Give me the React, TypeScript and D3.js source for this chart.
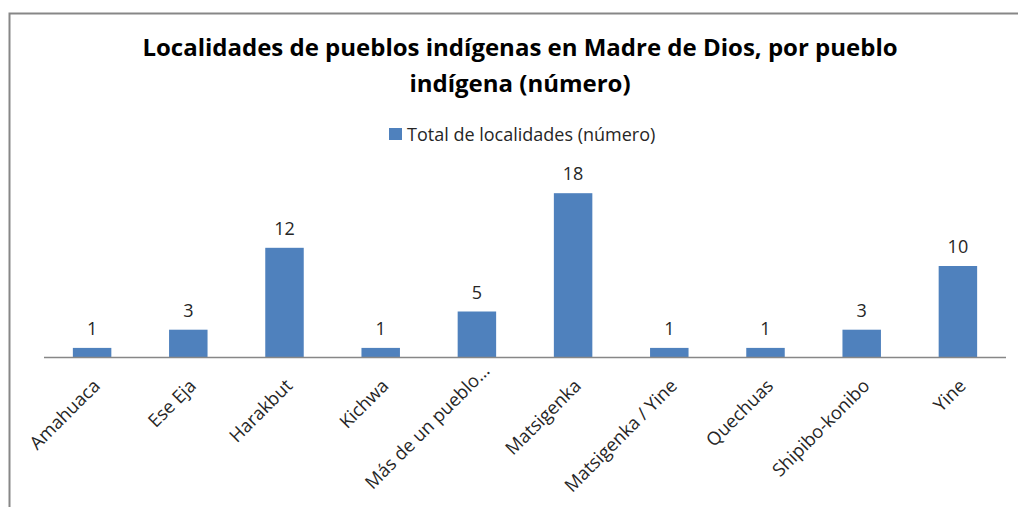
import { useEffect, useRef } from "react";
import * as d3 from "d3";

const categories = [
  "Amahuaca",
  "Ese Eja",
  "Harakbut",
  "Kichwa",
  "Más de un pueblo…",
  "Matsigenka",
  "Matsigenka / Yine",
  "Quechuas",
  "Shipibo-konibo",
  "Yine",
];
const totals = [1, 3, 12, 1, 5, 18, 1, 1, 3, 10];
const seriesName = "Total de localidades (número)";
const titleLines = [
  "Localidades de pueblos indígenas en Madre de Dios, por pueblo",
  "indígena (número)",
];

const W = 1018;
const H = 507;
const FONT = "'Open Sans', sans-serif";

export default function App() {
  const svgRef = useRef<SVGSVGElement | null>(null);

  useEffect(() => {
    if (!svgRef.current) return;
    const svg = d3.select(svgRef.current);
    svg.selectAll("*").remove();

    svg.append("rect").attr("width", W).attr("height", H).attr("fill", "white");

    // chart frame (only top and left edges fall inside the picture)
    svg
      .append("rect")
      .attr("x", 9.5)
      .attr("y", 13.5)
      .attr("width", W + 20)
      .attr("height", H + 20)
      .attr("fill", "none")
      .attr("stroke", "#878787")
      .attr("stroke-width", 2);

    const title = svg
      .append("text")
      .attr("font-family", FONT)
      .attr("font-weight", "bold")
      .attr("font-size", 24)
      .attr("fill", "#000")
      .attr("text-anchor", "middle");
    titleLines.forEach((line, i) => {
      title
        .append("tspan")
        .attr("x", 520)
        .attr("y", 56 + i * 36)
        .text(line);
    });

    // legend
    const legend = svg.append("g").attr("transform", "translate(389,128)");
    legend.append("rect").attr("width", 13).attr("height", 12).attr("fill", "#4F81BD");
    legend
      .append("text")
      .attr("x", 18)
      .attr("y", 12.5)
      .attr("font-family", FONT)
      .attr("font-size", 18)
      .attr("fill", "#262626")
      .text(seriesName);

    const x = d3
      .scaleBand<string>()
      .domain(categories)
      .range([44, 1006])
      .paddingInner(0.6)
      .paddingOuter(0.3);
    const y = d3.scaleLinear().domain([0, 20]).range([357, 175]);

    const rows = categories.map((c, i) => ({ c, v: totals[i] }));

    svg
      .append("g")
      .selectAll("rect")
      .data(rows)
      .join("rect")
      .attr("x", (d) => x(d.c)!)
      .attr("y", (d) => y(d.v))
      .attr("width", x.bandwidth())
      .attr("height", (d) => y(0) - y(d.v))
      .attr("fill", "#4F81BD");

    svg
      .append("g")
      .selectAll("text")
      .data(rows)
      .join("text")
      .attr("x", (d) => x(d.c)! + x.bandwidth() / 2)
      .attr("y", (d) => y(d.v) - 13)
      .attr("text-anchor", "middle")
      .attr("font-family", FONT)
      .attr("font-size", 18)
      .attr("fill", "#262626")
      .text((d) => d.v);

    svg
      .append("line")
      .attr("x1", 44)
      .attr("x2", 1006)
      .attr("y1", 357.5)
      .attr("y2", 357.5)
      .attr("stroke", "#878787")
      .attr("stroke-width", 1.5);

    // rotated category labels; truncated ones sit a little higher, as in Excel
    svg
      .append("g")
      .selectAll("text")
      .data(categories)
      .join("text")
      .attr("transform", (c) => {
        const cut = c.endsWith("…");
        const cx = x(c)! + x.bandwidth() / 2 + (cut ? 14 : 9);
        const cy = cut ? 372 : 387;
        return `translate(${cx},${cy}) rotate(-45)`;
      })
      .attr("text-anchor", "end")
      .attr("font-family", FONT)
      .attr("font-size", 18.3)
      .attr("fill", "#262626")
      .text((c) => c);
  }, []);

  return (
    <div style={{ position: "fixed", left: 0, top: 0 }}>
      <svg ref={svgRef} width={W} height={H} style={{ display: "block" }} />
    </div>
  );
}
